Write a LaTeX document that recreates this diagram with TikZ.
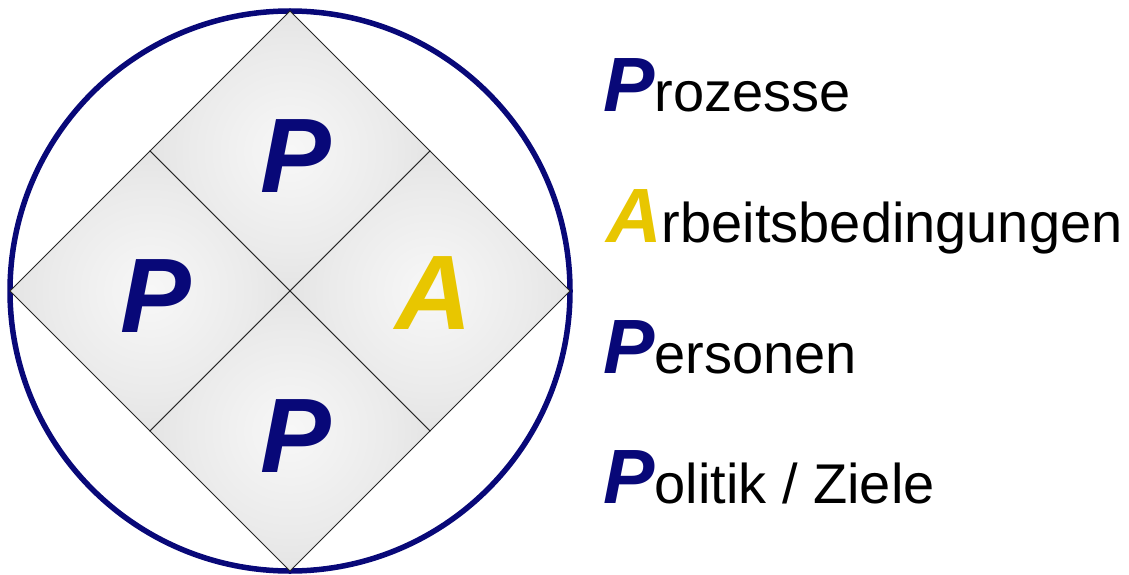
\documentclass[tikz,border=0pt]{standalone}
\usepackage{fontspec}
\setmainfont{Liberation Sans}
\definecolor{navy}{RGB}{8,8,120}
\definecolor{gold}{RGB}{232,198,0}
\pgfdeclareradialshading{sqshade}{\pgfpoint{0bp}{0bp}}{color(0bp)=(black!3); color(18bp)=(black!8); color(50bp)=(black!19); color(72bp)=(black!22)}
\tikzset{
  sq/.style={shape=rectangle, rotate=45, minimum size=198pt, inner sep=0pt, draw=black!85, line width=1pt, shading=sqshade},
  big/.style={anchor=base, inner sep=0pt, font=\fontsize{106}{106}\selectfont\bfseries\itshape},
  lbl/.style={anchor=base west, inner sep=0pt, font=\fontsize{56}{56}\selectfont}
}
\newcommand{\ini}[2]{{\fontsize{77}{77}\selectfont\bfseries\itshape\color{#1}#2}}
\begin{document}
\begin{tikzpicture}[x=1pt,y=-1pt]
\useasboundingbox (0,0) rectangle (1129,575);
\fill[white] (0,0) rectangle (1129,575);
\node[circle, draw=navy, line width=5.5pt, minimum size=560pt, inner sep=0pt] (ring) at (290,291) {};
\node[sq] (stop) at (290,151) {};
\node[sq] (sleft) at (150,291) {};
\node[sq] (sright) at (430,291) {};
\node[sq] (sbot) at (290,431) {};
\node[big, text=navy] (ltop) at (296,192) {P};
\node[big, text=navy] (lleft) at (156,332) {P};
\node[big, text=gold] (lright) at (434,329) {A};
\node[big, text=navy] (lbot) at (296,472) {P};
\node[lbl] (t1) at (603,112) {\ini{navy}{P}rozesse};
\node[lbl] (t2) at (606,242) {\ini{gold}{A}rbeitsbedingungen};
\node[lbl] (t3) at (603,373) {\ini{navy}{P}ersonen};
\node[lbl] (t4) at (603,503) {\ini{navy}{P}olitik / Ziele};
\end{tikzpicture}
\end{document}
